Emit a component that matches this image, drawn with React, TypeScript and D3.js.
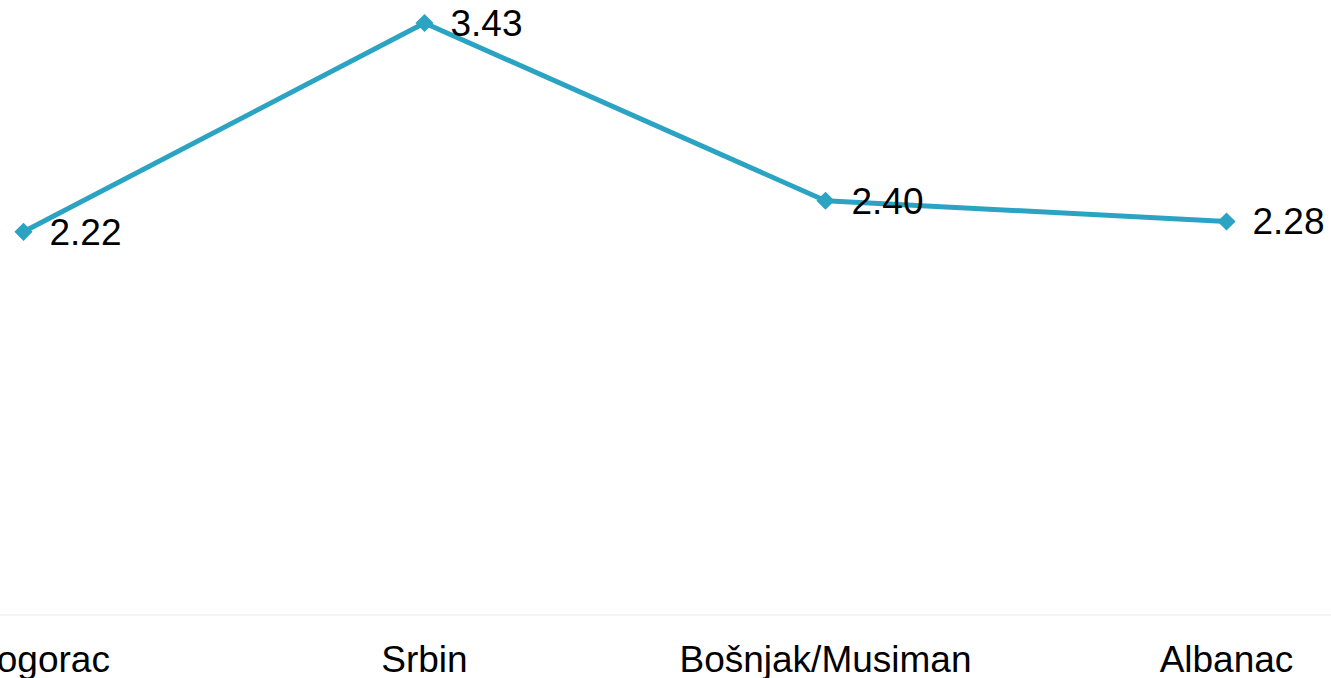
import React from 'react';
import * as d3 from 'd3';

const categories = ['Crnogorac', 'Srbin', 'Bošnjak/Musiman', 'Albanac'];
const values = [2.22, 3.43, 2.4, 2.28];

const width = 1331;
const height = 678;
const lineColor = '#2ba3c2';

const App = () => {
  const x = d3.scalePoint<string>()
    .domain(categories)
    .range([23.5, 1226.5]);

  const y = d3.scaleLinear()
    .domain([0, 3.43])
    .range([615, 23]);

  const points = categories.map((c, i) => ({ cat: c, value: values[i] }));

  const line = d3.line<{ cat: string; value: number }>()
    .x(d => x(d.cat) as number)
    .y(d => y(d.value));

  const diamond = d3.symbol().type(d3.symbolDiamond2).size(210)();

  return (
    <svg
      width={width}
      height={height}
      style={{ position: 'absolute', left: 0, top: 0, fontFamily: '"Liberation Sans", Arial, sans-serif' }}
    >
      <rect width={width} height={height} fill="#fff" />
      <line x1={0} x2={width} y1={y(0)} y2={y(0)} stroke="#f2f2f2" strokeWidth={1.5} />
      <path d={line(points) || ''} fill="none" stroke={lineColor} strokeWidth={5} strokeLinejoin="round" />
      {points.map(d => (
        <g key={d.cat} transform={`translate(${x(d.cat)},${y(d.value)})`}>
          <path d={diamond || ''} fill={lineColor} />
          <text x={26} dy="0.35em" fontSize={37} fill="#000">
            {d3.format('.2f')(d.value)}
          </text>
        </g>
      ))}
      {categories.map(c => (
        <text key={c} x={x(c)} y={672} textAnchor="middle" fontSize={37} fill="#000">
          {c}
        </text>
      ))}
    </svg>
  );
};

export default App;
